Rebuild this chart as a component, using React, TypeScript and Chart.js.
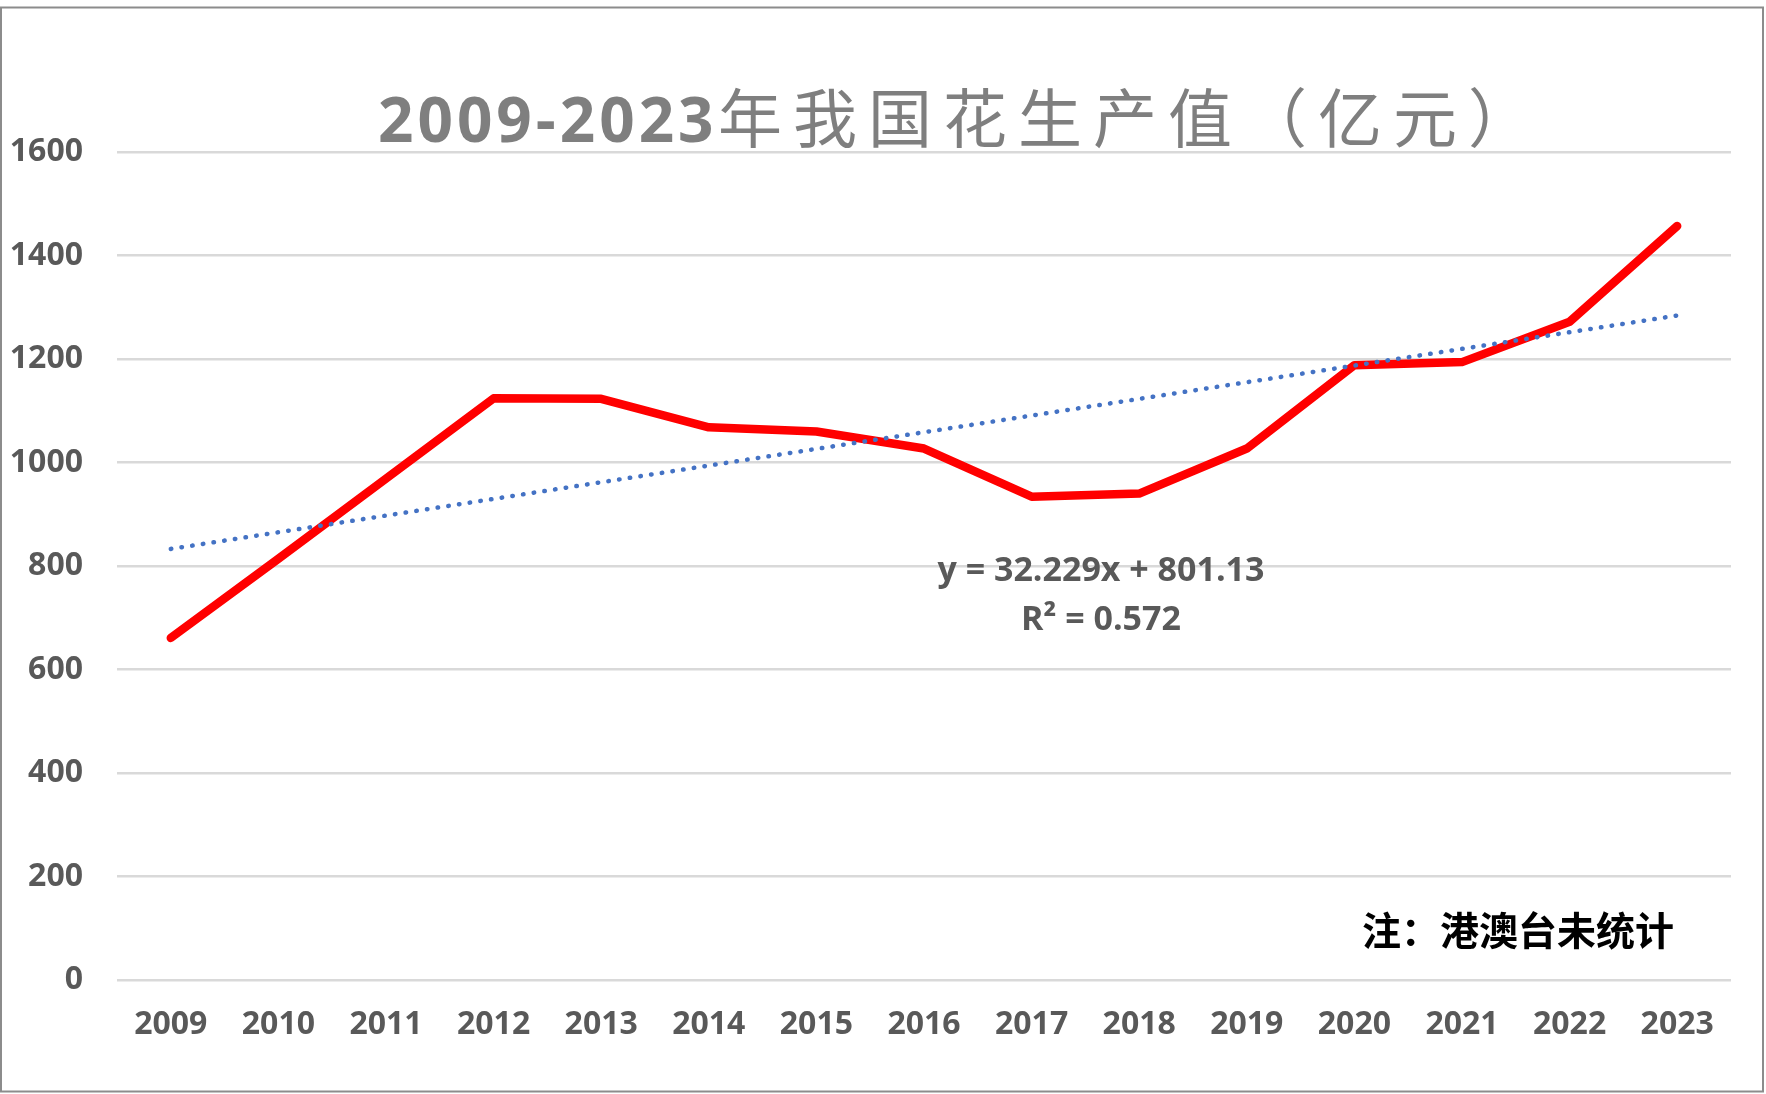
import { useEffect, useRef } from "react";
import { Chart, registerables } from "chart.js";

Chart.register(...registerables);

const years = [
  "2009", "2010", "2011", "2012", "2013", "2014", "2015", "2016",
  "2017", "2018", "2019", "2020", "2021", "2022", "2023",
];
// 花生产值（亿元）
const outputValue = [661, 814, 969, 1124, 1123, 1068, 1060, 1027, 934, 940, 1027, 1188, 1194, 1272, 1457];
// linear trendline, only its two ends
const trendValue = [833, null, null, null, null, null, null, null, null, null, null, null, null, null, 1284];

const titleNum = "2009-2023";
const titleCjk = "年我国花生产值（亿元）";
const equationText = "y = 32.229x + 801.13";
const r2Text = "R² = 0.572";
const noteText = "注：港澳台未统计";

const GRAY = "#595959";

const decorPlugin = {
  id: "decor",
  beforeDraw(chart: Chart) {
    const { ctx, width, height } = chart;
    ctx.save();
    ctx.fillStyle = "#ffffff";
    ctx.fillRect(0, 0, width, height);
    ctx.restore();
  },
  afterDraw(chart: Chart) {
    const { ctx } = chart;
    const c = ctx as any;
    ctx.save();

    // title: digits bold, CJK regular and widely spaced
    ctx.fillStyle = "#7f7f7f";
    ctx.textBaseline = "alphabetic";
    ctx.textAlign = "left";
    ctx.font = "bold 62px 'Open Sans'";
    c.letterSpacing = "4px";
    ctx.fillText(titleNum, 378, 142);
    ctx.font = "400 64px 'Noto Sans CJK SC'";
    c.letterSpacing = "11px";
    ctx.fillText(titleCjk, 718, 142);
    c.letterSpacing = "0px";

    // trendline label
    ctx.fillStyle = GRAY;
    ctx.textAlign = "center";
    ctx.font = "bold 34px 'Open Sans'";
    ctx.fillText(equationText, 1101, 581);
    ctx.fillText(r2Text, 1101, 630);

    // note
    ctx.fillStyle = "#000000";
    ctx.textAlign = "left";
    ctx.textBaseline = "middle";
    ctx.font = "bold 39px 'Noto Sans CJK SC'";
    ctx.fillText(noteText, 1362, 930);

    // outer frame
    ctx.strokeStyle = "#8c8c8c";
    ctx.lineWidth = 2;
    ctx.strokeRect(1, 7.5, 1762, 1084);
    ctx.restore();
  },
};

export default function App() {
  const ref = useRef<HTMLCanvasElement>(null);
  const instance = useRef<Chart | null>(null);

  useEffect(() => {
    document.body.style.margin = "0";
    if (!ref.current) return;
    instance.current?.destroy();
    instance.current = new Chart(ref.current, {
      type: "line",
      data: {
        labels: years,
        datasets: [
          {
            label: "趋势线",
            data: trendValue,
            spanGaps: true,
            borderColor: "#4472C4",
            borderWidth: 4.5,
            borderDash: [0.5, 10.3],
            borderCapStyle: "round",
            pointRadius: 0,
            fill: false,
            order: 0,
          },
          {
            label: "花生产值",
            data: outputValue,
            borderColor: "#FF0000",
            borderWidth: 8.5,
            borderJoinStyle: "round",
            borderCapStyle: "round",
            pointRadius: 0,
            tension: 0,
            fill: false,
            order: 1,
          },
        ],
      },
      options: {
        responsive: false,
        animation: false,
        devicePixelRatio: 1,
        layout: { padding: { top: 152, right: 35, left: 0, bottom: 0 } },
        plugins: {
          legend: { display: false },
          tooltip: { enabled: false },
          title: { display: false },
        },
        scales: {
          x: {
            type: "category",
            offset: true,
            grid: { display: false, drawTicks: false },
            border: { display: false },
            ticks: {
              color: GRAY,
              font: { family: "'Open Sans'", size: 32, weight: "bold" },
              padding: 26,
              maxRotation: 0,
              autoSkip: false,
            },
            afterFit: (scale: any) => {
              scale.height = 114;
            },
          },
          y: {
            min: 0,
            max: 1600,
            grid: { color: "#D9D9D9", lineWidth: 2.5, drawTicks: false },
            border: { display: false },
            ticks: {
              stepSize: 200,
              color: GRAY,
              font: { family: "'Open Sans'", size: 32, weight: "bold" },
              padding: 34,
              callback: (v: any) => String(v),
            },
            afterFit: (scale: any) => {
              scale.width = 117;
            },
          },
        },
      },
      plugins: [decorPlugin],
    });
    return () => {
      instance.current?.destroy();
      instance.current = null;
    };
  }, []);

  return (
    <div style={{ width: 1766, height: 1094, position: "relative" }}>
      <canvas ref={ref} width={1766} height={1094} />
    </div>
  );
}
